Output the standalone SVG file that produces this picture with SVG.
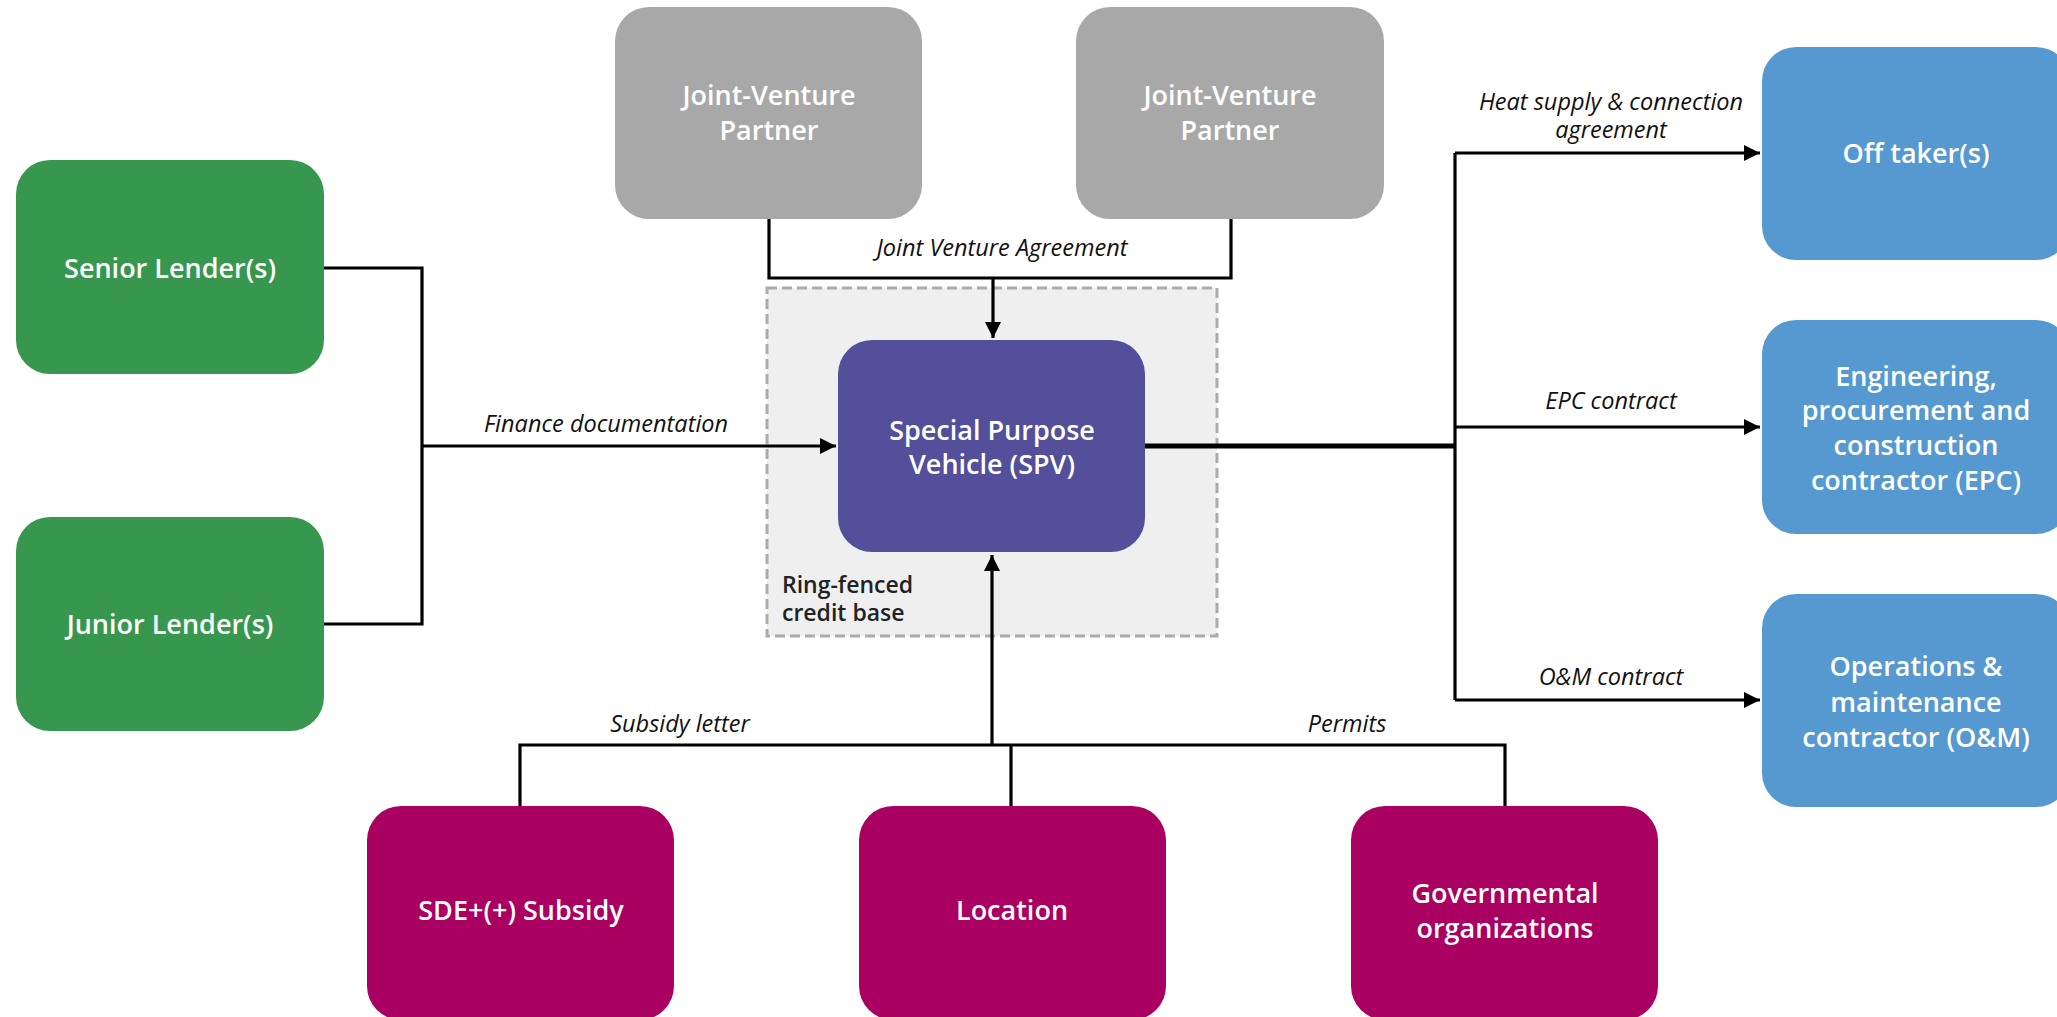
<svg xmlns="http://www.w3.org/2000/svg" width="2057" height="1017" viewBox="0 0 2057 1017">
<defs>
<style>
.node text{font-family:"Open Sans","Liberation Sans",sans-serif;font-weight:600;fill:#fff;font-size:27px;text-anchor:middle}
.lbl{font-family:"Open Sans","Liberation Sans",sans-serif;font-style:italic;font-size:23.5px;fill:#111;text-anchor:middle}
.ln{fill:none;stroke:#000;stroke-width:3.2}
.green rect{fill:#37974F}
.gray rect{fill:#A8A8A8}
.blue rect{fill:#5599D0}
.mag rect{fill:#AA0061}
</style>
<marker id="ah" viewBox="0 0 10 10" refX="10" refY="5" markerWidth="5" markerHeight="5" markerUnits="strokeWidth" orient="auto">
<path d="M0,0 L10,5 L0,10 z" fill="#000"/>
</marker>
</defs>
<rect width="2057" height="1017" fill="#fff"/>

<g id="ringfence">
<rect x="767" y="288" width="450" height="348" fill="#EFEFEF" stroke="#ABABAB" stroke-width="3" stroke-dasharray="10,5"/>
<text x="782" y="593" font-family="Open Sans, Liberation Sans, sans-serif" font-weight="600" font-size="23" fill="#222">Ring-fenced</text>
<text x="782" y="621" font-family="Open Sans, Liberation Sans, sans-serif" font-weight="600" font-size="23" fill="#222">credit base</text>
</g>

<g id="connectors">
<polyline class="ln" points="324,268 422,268 422,624 324,624"/>
<line class="ln" x1="422" y1="446" x2="836" y2="446" marker-end="url(#ah)"/>
<polyline class="ln" points="769,219 769,278 1231,278 1231,219"/>
<line class="ln" x1="993" y1="278" x2="993" y2="338" marker-end="url(#ah)"/>
<line fill="none" stroke="#000" stroke-width="5" x1="1145" y1="446" x2="1455" y2="446"/>
<line class="ln" x1="1455" y1="153" x2="1455" y2="700"/>
<line class="ln" x1="1455" y1="153" x2="1760" y2="153" marker-end="url(#ah)"/>
<line class="ln" x1="1455" y1="427" x2="1760" y2="427" marker-end="url(#ah)"/>
<line class="ln" x1="1455" y1="700" x2="1760" y2="700" marker-end="url(#ah)"/>
<polyline class="ln" points="520,806 520,745 1505,745 1505,806"/>
<line class="ln" x1="1011" y1="745" x2="1011" y2="806"/>
<line class="ln" x1="992" y1="745" x2="992" y2="555" marker-end="url(#ah)"/>
<text class="lbl" x="606" y="432">Finance documentation</text>
<text class="lbl" x="1002" y="256">Joint Venture Agreement</text>
<text class="lbl" x="1611" y="110">Heat supply &amp; connection</text>
<text class="lbl" x="1611" y="138">agreement</text>
<text class="lbl" x="1611" y="409">EPC contract</text>
<text class="lbl" x="1611" y="685">O&amp;M contract</text>
<text class="lbl" x="680" y="732">Subsidy letter</text>
<text class="lbl" x="1347" y="732">Permits</text>
</g>

<g id="senior" class="node green"><rect x="16" y="160" width="308" height="214" rx="34"/><text x="170" y="278">Senior Lender(s)</text></g>
<g id="junior" class="node green"><rect x="16" y="517" width="308" height="214" rx="34"/><text x="170" y="634">Junior Lender(s)</text></g>
<g id="jv1" class="node gray"><rect x="615" y="7" width="307" height="212" rx="34"/><text x="769" y="105">Joint-Venture</text><text x="769" y="140">Partner</text></g>
<g id="jv2" class="node gray"><rect x="1076" y="7" width="308" height="212" rx="34"/><text x="1230" y="105">Joint-Venture</text><text x="1230" y="140">Partner</text></g>
<g id="spv" class="node"><rect x="838" y="340" width="307" height="212" rx="34" fill="#534F9A"/><text x="992" y="440">Special Purpose</text><text x="992" y="474">Vehicle (SPV)</text></g>
<g id="offtaker" class="node blue"><rect x="1762" y="47" width="308" height="213" rx="34"/><text x="1916" y="163">Off taker(s)</text></g>
<g id="epc" class="node blue"><rect x="1762" y="320" width="308" height="214" rx="34"/><text x="1916" y="386">Engineering,</text><text x="1916" y="420">procurement and</text><text x="1916" y="455">construction</text><text x="1916" y="490">contractor (EPC)</text></g>
<g id="om" class="node blue"><rect x="1762" y="594" width="308" height="213" rx="34"/><text x="1916" y="676">Operations &amp;</text><text x="1916" y="712">maintenance</text><text x="1916" y="747">contractor (O&amp;M)</text></g>
<g id="sde" class="node mag"><rect x="367" y="806" width="307" height="214" rx="34"/><text x="521" y="920">SDE+(+) Subsidy</text></g>
<g id="location" class="node mag"><rect x="859" y="806" width="307" height="214" rx="34"/><text x="1012" y="920">Location</text></g>
<g id="gov" class="node mag"><rect x="1351" y="806" width="307" height="214" rx="34"/><text x="1505" y="903">Governmental</text><text x="1505" y="938">organizations</text></g>
</svg>
